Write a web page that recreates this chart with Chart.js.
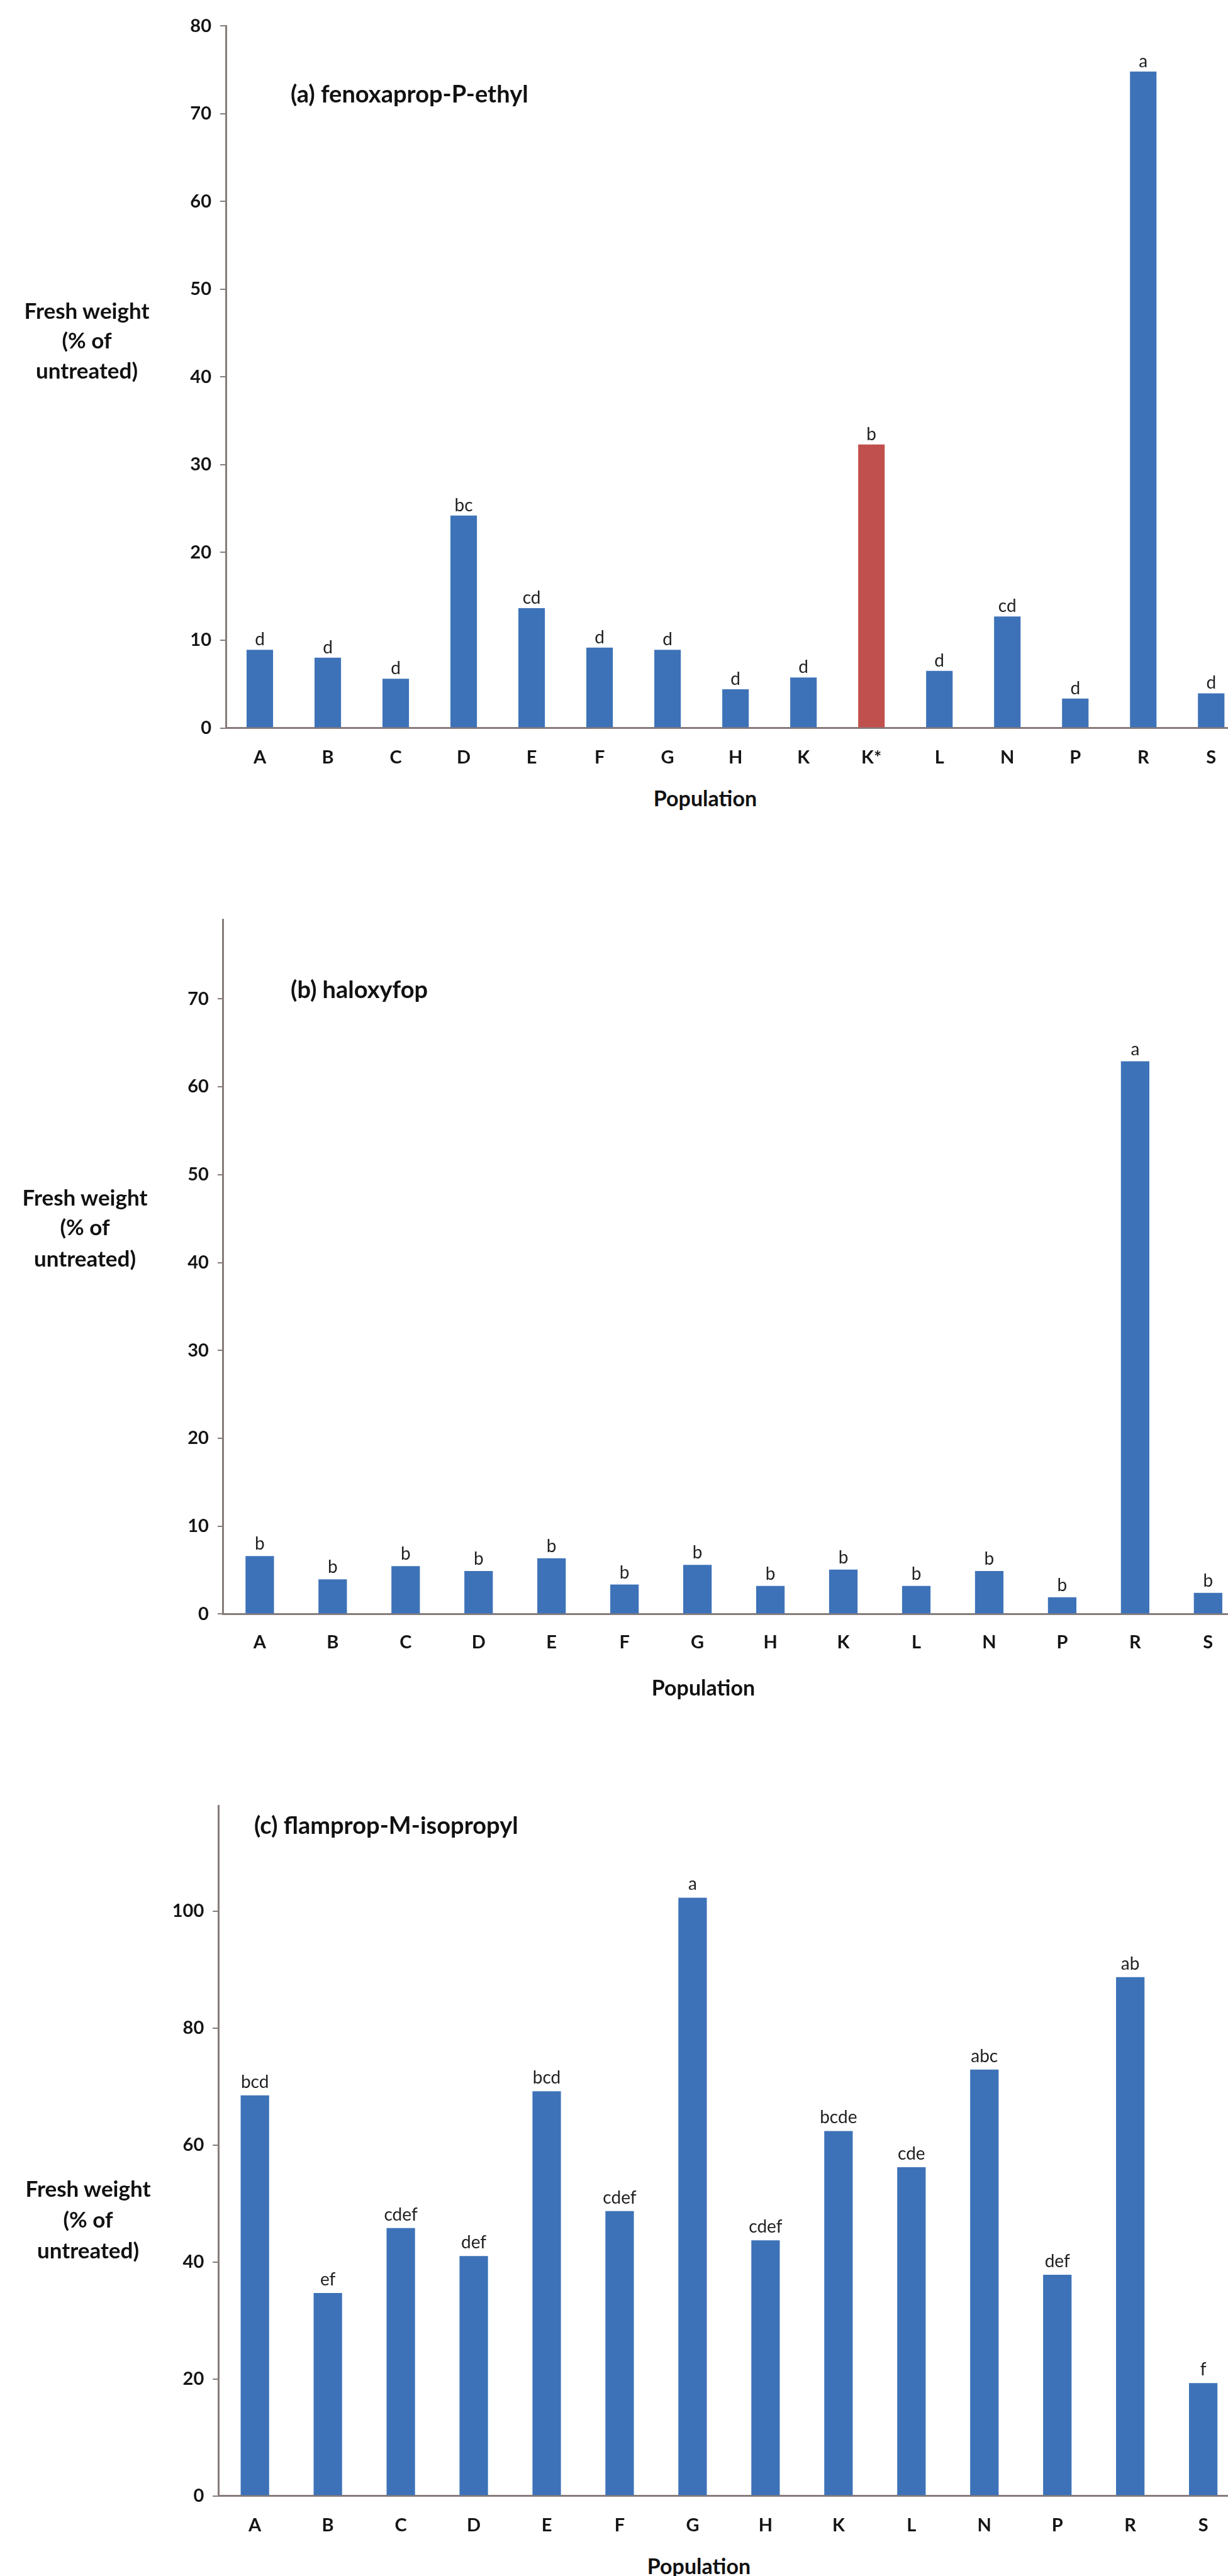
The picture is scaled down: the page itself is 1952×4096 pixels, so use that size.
<!DOCTYPE html>
<html><head><meta charset="utf-8">
<script src="https://cdn.jsdelivr.net/npm/chart.js@4.4.1/dist/chart.umd.min.js"></script>
<style>
html,body{margin:0;padding:0;background:#fff;overflow:hidden;width:1952px;height:4096px;}
#wrap{position:relative;width:1952px;height:4096px;overflow:hidden;font-family:Lato,sans-serif;}
canvas{position:absolute;left:0;}
.t{position:absolute;color:#111;font-weight:700;white-space:nowrap;line-height:1;}
.c{transform:translate(-50%,-50%);text-align:center;}
.l{transform:translate(0,-50%);}
</style></head><body><div id="wrap"></div>
<script>
// ---- data ----
const catsA = ['A','B','C','D','E','F','G','H','K','K*','L','N','P','R','S'];
const valsA = [8.9, 8.0, 5.6, 24.2, 13.65, 9.15, 8.9, 4.4, 5.75, 32.3, 6.5, 12.7, 3.35, 74.8, 3.95];
const lettersA = ['d','d','d','bc','cd','d','d','d','d','b','d','cd','d','a','d'];

const catsB = ['A','B','C','D','E','F','G','H','K','L','N','P','R','S'];
const valsB = [6.6, 3.95, 5.45, 4.9, 6.35, 3.35, 5.6, 3.2, 5.05, 3.2, 4.9, 1.9, 62.9, 2.4];
const lettersB = ['b','b','b','b','b','b','b','b','b','b','b','b','a','b'];

const catsC = ['A','B','C','D','E','F','G','H','K','L','N','P','R','S'];
const valsC = [68.5, 34.7, 45.8, 41.0, 69.2, 48.7, 102.3, 43.7, 62.4, 56.2, 72.9, 37.8, 88.7, 19.3];
const lettersC = ['bcd','ef','cdef','def','bcd','cdef','a','cdef','bcde','cde','abc','def','ab','f'];

const titles = ['(a) fenoxaprop-P-ethyl', '(b) haloxyfop', '(c) flamprop-M-isopropyl'];
const yTitleLines = ['Fresh weight', '(% of', 'untreated)'];
const xTitle = 'Population';
const yMaxes = [80, 79, 118];
const ySteps = [10, 10, 20];
const highlightCat = 'K*';

// ---- styles / layout ----
const BLUE = '#3d72b8', RED = '#c0504d', AXIS = '#867c7a', TXT = '#151515';
const CW = 2000;
const layouts = [
  {top:0,    h:1240, area:{l:359,   r:1979.3, t:41.2,   b:1157.5}, title:{x:462,y:148},  yt:{x:138,y:[493,539.6,588]},   pop:{x:1121,y:1269},   gap:7,  pad:30},
  {top:1300, h:1380, area:{l:354.9, r:1978.3, t:1462.6, b:2566.4}, title:{x:462,y:1572}, yt:{x:135,y:[1903,1950.4,2000]}, pop:{x:1118,y:2682.5}, gap:10, pad:28},
  {top:2750, h:1300, area:{l:347.2, r:1970.6, t:2871.4, b:3968.6}, title:{x:404,y:2901}, yt:{x:140,y:[3479,3528,3577]},  pop:{x:1111,y:4080.4}, gap:12, pad:30}
];
const cats = [catsA, catsB, catsC];
const vals = [valsA, valsB, valsC];
const letters = [lettersA, lettersB, lettersC];

const wrap = document.getElementById('wrap');
function addText(txt, x, y, size, cls, weight){
  const d = document.createElement('div');
  d.className = 't ' + cls;
  d.textContent = txt;
  d.style.left = x + 'px'; d.style.top = y + 'px';
  d.style.fontSize = size + 'px';
  if (weight) d.style.fontWeight = weight;
  wrap.appendChild(d);
}

const letterPlugin = {
  id: 'letters',
  afterDatasetsDraw(chart, args, opts){
    const meta = chart.getDatasetMeta(0);
    const ctx = chart.ctx;
    ctx.save();
    ctx.font = '400 28px Lato';
    ctx.fillStyle = '#222';
    ctx.textAlign = 'center';
    ctx.textBaseline = 'alphabetic';
    meta.data.forEach((bar, j) => ctx.fillText(opts.letters[j], bar.x, bar.y - opts.gap));
    ctx.restore();
  }
};

function makeChart(i){
  const L = layouts[i], a = L.area;
  const cv = document.createElement('canvas');
  cv.width = CW; cv.height = L.h;
  cv.style.top = L.top + 'px'; cv.style.width = CW + 'px'; cv.style.height = L.h + 'px';
  wrap.appendChild(cv);
  const tickFont = {family:'Lato', size:29, weight:'bold'};
  new Chart(cv, {
    type: 'bar',
    data: {
      labels: cats[i],
      datasets: [{
        data: vals[i],
        backgroundColor: cats[i].map(c => c === highlightCat ? RED : BLUE),
        borderWidth: 0,
        barPercentage: 1,
        categoryPercentage: 0.39
      }]
    },
    options: {
      responsive: false, animation: false, devicePixelRatio: 1,
      layout: {padding: {top: a.t - L.top, left: 0, right: CW - a.r, bottom: 0}},
      plugins: {legend: {display: false}, tooltip: {enabled: false}, title: {display: false},
        letters: {letters: letters[i], gap: L.gap}},
      scales: {
        x: {
          grid: {display: false, drawTicks: false},
          border: {display: true, color: AXIS, width: 3},
          ticks: {font: tickFont, color: TXT, padding: L.pad, autoSkip: false, maxRotation: 0},
          afterFit: s => { s.height = L.h - (a.b - L.top); }
        },
        y: {
          min: 0, max: yMaxes[i],
          ticks: {stepSize: ySteps[i], font: tickFont, color: TXT, padding: 14},
          grid: {display: true, drawOnChartArea: false, drawTicks: true, tickLength: 9, color: AXIS, lineWidth: 2},
          border: {display: true, color: AXIS, width: 3},
          afterBuildTicks: s => { s.ticks = s.ticks.filter(t => t.value % ySteps[i] === 0); },
          afterFit: s => { s.width = a.l; }
        }
      }
    },
    plugins: [letterPlugin]
  });
  addText(titles[i], L.title.x, L.title.y, 38, 'l');
  yTitleLines.forEach((ln, k) => addText(ln, L.yt.x, L.yt.y[k], 35, 'c'));
  addText(xTitle, L.pop.x, L.pop.y, 34, 'c');
}
[0,1,2].forEach(makeChart);
</script></body></html>
